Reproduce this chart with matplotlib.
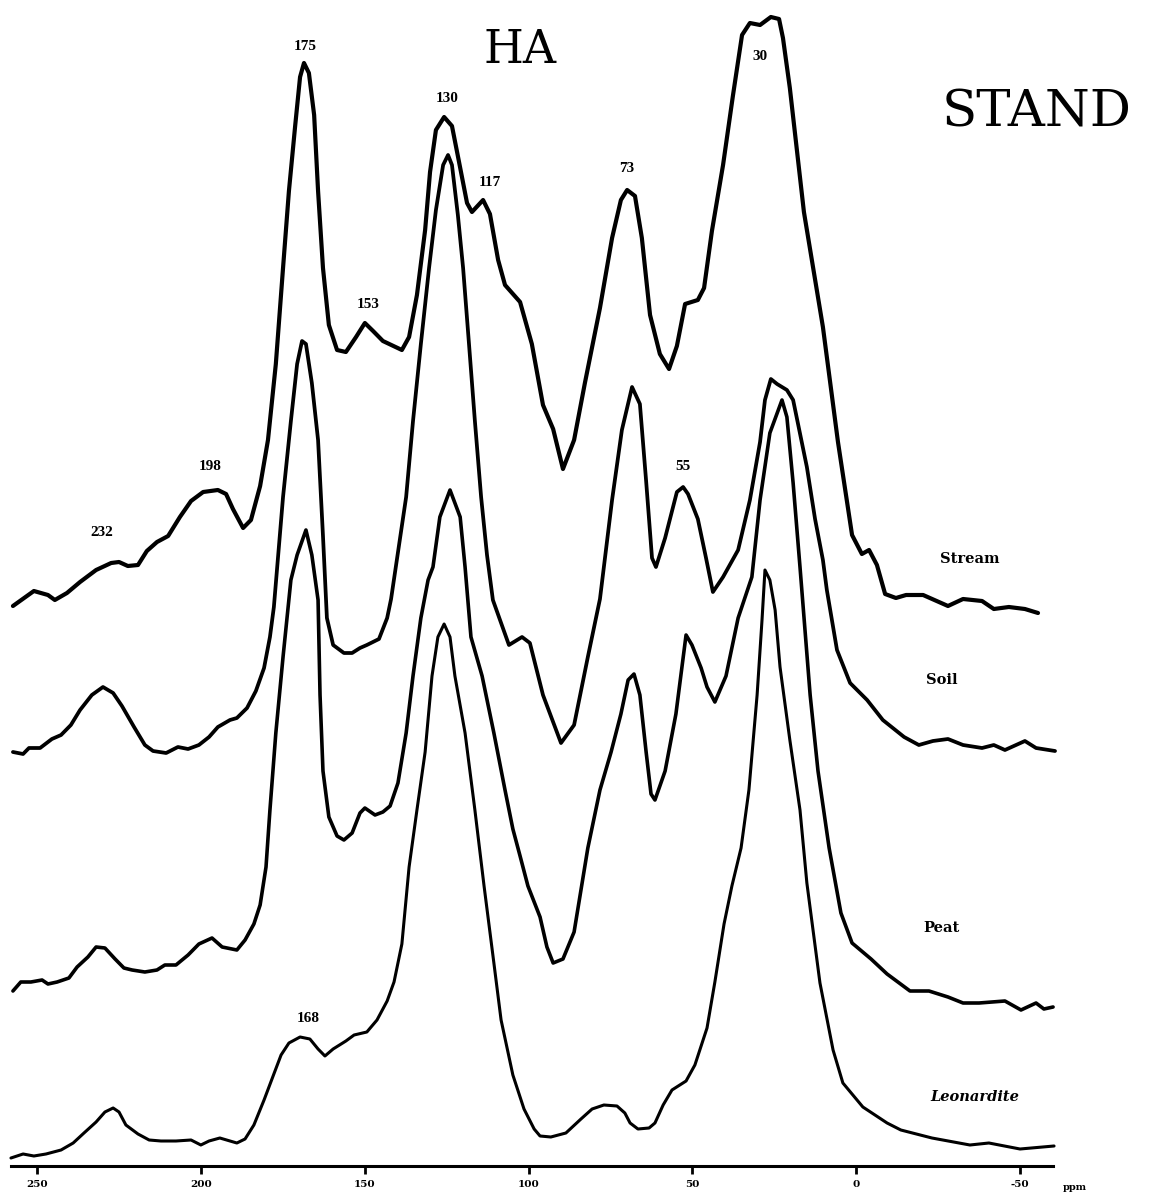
"""
13C NMR spectra of humic acids (HA) -- STAND
Four stacked traces: Stream, Soil, Peat, Leonardite
"""

import matplotlib.pyplot as plt

# ======================== font ========================
plt.rcParams['font.family'] = ['Liberation Serif', 'DejaVu Serif']

# ======================== data (ppm, relative intensity) ========================
stream_ppm = [257.5, 251.1, 246.8, 244.7, 241.0, 237.0, 232.1, 227.5, 225.1, 222.4,
              219.3, 216.6, 213.5, 210.1, 206.5, 203.1, 199.4, 194.9, 192.4, 190.3,
              187.2, 184.8, 182.0, 179.6, 177.2, 175.0, 173.2, 171.3, 169.8, 168.6,
              167.1, 165.5, 164.3, 162.8, 161.0, 158.5, 155.8, 152.7, 150.0, 147.5,
              144.5, 138.7, 136.5, 134.1, 131.6, 130.1, 128.3, 125.8, 123.4, 121.3,
              118.8, 117.3, 113.9, 111.8, 109.3, 107.2, 102.6, 99.0, 95.6, 92.5,
              89.5, 86.1, 82.8, 78.2, 74.5, 71.8, 69.9, 67.5, 65.4, 62.9,
              59.9, 57.1, 54.7, 52.2, 48.3, 46.4, 44.0, 40.6, 37.6, 34.8,
              32.4, 29.3, 26.0, 23.5, 22.3, 20.2, 15.9, 10.1, 5.5, 1.2,
              -1.8, -4.0, -6.4, -8.9, -12.2, -15.3, -20.5, -28.1, -32.7, -38.5,
              -42.1, -46.7, -51.6, -55.6]
stream_int = [-6, 9, 5, 0, 7, 18, 30, 37, 38, 34,
              35, 49, 58, 64, 83, 99, 108, 110, 106, 91,
              72, 80, 114, 160, 236, 332, 409, 474, 523, 537,
              527, 485, 409, 332, 275, 250, 248, 263, 277, 269,
              259, 250, 263, 305, 370, 428, 470, 483, 474, 439,
              397, 388, 400, 386, 340, 315, 298, 256, 195, 171,
              131, 160, 217, 292, 362, 400, 410, 404, 362, 285,
              246, 231, 254, 296, 300, 312, 369, 435, 504, 565,
              577, 575, 583, 581, 562, 512, 388, 273, 158, 65,
              46, 50, 35, 6, 2, 5, 5, -6, 1, -1,
              -9, -7, -9, -13]

soil_ppm = [257.5, 254.4, 252.6, 249.2, 245.6, 242.8, 239.8, 237.0, 233.4, 230.0,
            226.9, 224.2, 220.5, 217.2, 214.7, 210.7, 207.1, 204.0, 200.7, 197.6,
            194.9, 191.2, 189.1, 186.0, 183.3, 180.8, 179.0, 177.8, 175.0, 172.6,
            170.7, 169.2, 168.0, 166.2, 164.3, 162.8, 161.6, 159.7, 156.4, 153.9,
            151.5, 149.4, 145.7, 143.2, 142.0, 137.4, 135.3, 132.9, 130.4, 128.3,
            126.1, 124.6, 123.4, 121.6, 120.0, 118.2, 116.4, 114.5, 112.7, 110.9,
            106.0, 102.0, 99.6, 95.6, 90.1, 86.1, 81.9, 78.2, 74.5, 71.5,
            68.4, 66.0, 64.1, 62.3, 61.1, 58.3, 54.7, 52.8, 51.3, 48.3,
            45.8, 43.7, 40.6, 36.0, 32.4, 29.3, 27.8, 26.0, 24.1, 21.1,
            19.2, 15.0, 12.5, 10.1, 8.9, 5.8, 1.8, -3.4, -8.2, -14.7,
            -19.2, -23.5, -28.1, -32.7, -38.5, -42.1, -45.5, -51.6, -55.0, -60.8]
soil_int = [-7, -9, -3, -3, 6, 10, 20, 35, 50, 58,
            52, 39, 18, 0, -6, -8, -2, -4, 0, 8,
            18, 25, 27, 37, 54, 77, 108, 138, 248, 324,
            381, 404, 401, 362, 305, 209, 127, 100, 92, 92,
            97, 100, 106, 127, 146, 248, 324, 401, 477, 535,
            580, 590, 580, 530, 477, 401, 324, 248, 190, 145,
            100, 108, 102, 50, 2, 20, 88, 146, 245, 315,
            358, 341, 264, 187, 178, 207, 253, 258, 251, 226,
            187, 153, 168, 195, 245, 303, 345, 366, 361, 355,
            345, 278, 226, 185, 155, 95, 62, 45, 25, 8,
            0, 4, 6, 0, -3, 0, -5, 4, -3, -6]

peat_ppm = [257.5, 255.1, 252.0, 248.6, 246.8, 244.0, 240.4, 237.9, 234.6, 232.1,
            229.4, 226.3, 223.6, 221.1, 217.2, 213.5, 211.1, 207.7, 204.0, 200.7,
            196.7, 193.6, 189.1, 186.6, 183.9, 182.0, 180.2, 179.0, 177.2, 175.0,
            172.6, 170.7, 168.0, 166.2, 164.3, 163.7, 162.8, 161.0, 158.5, 156.4,
            153.9, 151.5, 150.0, 146.9, 144.5, 142.3, 139.9, 137.4, 135.3, 132.9,
            130.7, 129.2, 127.1, 124.0, 120.9, 119.4, 117.6, 114.2, 110.6, 107.2,
            104.8, 102.6, 100.2, 96.5, 94.4, 92.5, 89.5, 86.1, 81.9, 78.2,
            74.8, 71.8, 69.6, 67.8, 66.0, 64.1, 62.6, 61.4, 58.3, 55.0,
            51.9, 50.1, 47.3, 45.5, 43.1, 39.7, 36.0, 31.8, 29.3, 26.3,
            22.6, 21.1, 19.2, 17.1, 14.0, 11.6, 8.2, 4.6, 1.2, -4.6,
            -9.5, -16.5, -22.3, -28.1, -32.7, -37.6, -45.5, -50.4, -55.0, -57.4,
            -60.2]
peat_int = [-6, 3, 3, 5, 1, 3, 7, 18, 28, 38,
            37, 26, 17, 15, 13, 15, 20, 20, 30, 41,
            47, 38, 35, 45, 61, 80, 118, 175, 252, 328,
            405, 430, 455, 430, 385, 290, 214, 168, 149, 145,
            152, 172, 177, 170, 173, 179, 202, 252, 309, 367,
            405, 418, 468, 495, 468, 418, 348, 309, 252, 195,
            156, 129, 99, 68, 38, 22, 26, 53, 137, 195,
            233, 271, 305, 311, 290, 233, 191, 185, 214, 271,
            350, 340, 317, 298, 283, 309, 367, 408, 485, 552,
            585, 568, 502, 418, 290, 214, 137, 72, 42, 26,
            11, -6, -6, -12, -18, -18, -16, -25, -18, -24,
            -22]

leo_ppm = [258.1, 254.4, 251.1, 247.4, 242.8, 239.1, 235.8, 232.1, 229.4, 226.9,
           225.1, 223.0, 219.3, 215.9, 212.3, 207.7, 203.1, 200.1, 197.6, 194.3,
           191.2, 189.1, 186.6, 183.9, 180.8, 177.8, 175.6, 173.2, 169.8, 166.8,
           164.3, 162.2, 159.7, 155.8, 153.3, 149.4, 146.3, 143.2, 141.1, 138.7,
           136.5, 134.1, 131.6, 129.5, 127.7, 125.8, 124.0, 122.5, 119.4, 116.4,
           113.6, 110.6, 108.4, 104.8, 101.4, 98.3, 96.5, 93.2, 88.6, 84.0,
           80.6, 77.0, 73.0, 70.6, 69.0, 66.6, 63.2, 61.4, 58.9, 56.2,
           51.9, 49.2, 45.5, 43.1, 40.3, 37.9, 35.1, 32.7, 30.2, 28.7,
           27.8, 26.3, 24.7, 23.2, 20.2, 17.1, 15.0, 11.0, 7.0, 4.0,
           -2.1, -9.5, -13.7, -23.2, -34.8, -40.6, -50.1, -60.5]
leo_int = [-3, 1, -1, 1, 5, 12, 22, 33, 43, 47,
           43, 30, 21, 15, 14, 14, 15, 10, 14, 17,
           14, 12, 16, 30, 55, 81, 100, 112, 118, 116,
           106, 99, 106, 114, 120, 123, 135, 154, 173, 211,
           288, 345, 403, 479, 518, 531, 518, 479, 422, 345,
           269, 192, 135, 80, 46, 26, 19, 18, 22, 36,
           46, 50, 49, 42, 32, 26, 27, 32, 50, 65,
           74, 90, 127, 173, 231, 269, 307, 365, 460, 535,
           585, 575, 545, 488, 415, 345, 272, 172, 105, 72,
           48, 32, 25, 17, 10, 12, 6, 9]

trace_names = ['Stream', 'Soil', 'Peat', 'Leonardite']
trace_offsets = [566, 421, 181, 11]
trace_widths = [3.0, 2.7, 2.6, 2.2]

# peak annotations: (text, ppm, height)
peak_labels = [('175', 168.3, 1119), ('130', 124.9, 1068), ('117', 111.8, 983),
               ('153', 149.1, 861), ('73', 69.9, 998), ('30', 29.3, 1110),
               ('198', 197.3, 699), ('232', 230.3, 634), ('55', 52.8, 700),
               ('168', 167.4, 148)]
# sample names, right-hand side
name_pos = [(-34.8, 607), (-26.3, 486), (-26.0, 238), (-36.3, 69)]

tick_values = [250, 200, 150, 100, 50, 0, -50]
tick_labels = ['250', '200', '150', '100', '50', '0', '-50']

# ======================== figure ========================
fig = plt.figure(figsize=(11.49, 11.93), dpi=100)
ax = fig.add_axes([0, 27 / 1193, 1, 1166 / 1193])

traces = [(stream_ppm, stream_int), (soil_ppm, soil_int),
          (peat_ppm, peat_int), (leo_ppm, leo_int)]
for (xs, ys), off, lw in zip(traces, trace_offsets, trace_widths):
    ax.plot(xs, [v + off for v in ys], color='black', linewidth=lw,
            solid_joinstyle='round', solid_capstyle='round')

for txt, x, y in peak_labels:
    ax.text(x, y, txt, ha='center', va='center', fontsize=11,
            fontweight='bold')

for name, (x, y) in zip(trace_names, name_pos):
    ax.text(x, y, name, ha='center', va='center', fontsize=10.5,
            family='DejaVu Serif', fontweight='bold',
            style='italic' if name == 'Leonardite' else 'normal')

ax.text(102.6, 1116, 'HA', ha='center', va='center', fontsize=33,
        family='DejaVu Serif')
ax.text(-55.3, 1053, 'STAND', ha='center', va='center', fontsize=37,
        family='DejaVu Serif')

# ---- axis: inverted ppm scale, only the bottom line ----
ax.set_xlim(261.45, -89.5)
ax.set_ylim(0, 1166)
for side in ['left', 'right', 'top']:
    ax.spines[side].set_visible(False)
ax.spines['bottom'].set_linewidth(2.2)
ax.spines['bottom'].set_bounds(258.1, -60.2)
ax.set_yticks([])
ax.set_xticks(tick_values)
ax.set_xticklabels(tick_labels, fontsize=7.5, fontweight='heavy',
                   family='DejaVu Serif')
ax.tick_params(axis='x', direction='out', length=6, width=2, pad=4)
ax.text(-66.9, -22, 'ppm', ha='center', va='center', fontsize=7,
        fontweight='bold', family='DejaVu Serif', clip_on=False)

plt.savefig('out.png', dpi=100)
